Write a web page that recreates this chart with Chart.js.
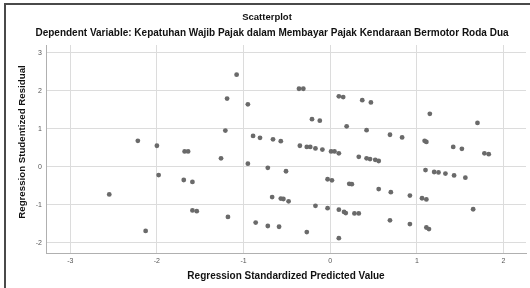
<!DOCTYPE html>
<html>
<head>
<meta charset="utf-8">
<script src="https://cdn.jsdelivr.net/npm/chart.js@4.4.1/dist/chart.umd.min.js"></script>
<style>
  body { margin: 0; background: #fff; }
  canvas { display: block; }
</style>
</head>
<body>
<canvas id="scatterChart" width="530" height="288"></canvas>
<script>
// data
const predicted = [
  -2.55, -1.98, -2.13, -2.22, -2.00, -1.68, -1.64, -1.08, -1.19, -0.95,
  -1.21, -1.26, -0.95, -0.72, -0.51, -0.89, -0.81, -0.66, -0.57, -0.36,
  -0.31, -0.21, -0.12, 0.10, 0.15, 0.19, -0.35, -0.27, -0.23, -0.17,
  -0.09, 0.01, 0.05, 0.10, 0.37, 0.47, 0.42, 0.69, 0.83, 1.15,
  1.70, 1.09, 1.11, 1.42, 1.52, 1.78, 1.83, 0.33, 0.42, 0.46,
  0.52, 0.56, 1.10, 1.20, 1.25, 1.33, 1.43, 1.56, -1.69, -1.59,
  -0.03, 0.02, 0.22, 0.25, 0.56, 0.70, 0.92, 1.06, 1.11, -0.67,
  -0.57, -0.54, -0.48, -0.17, -0.03, 0.10, 0.16, 0.18, 0.28, 0.33,
  0.69, 0.92, 1.11, 1.14, 1.65, -1.59, -1.54, -1.18, -0.86, -0.72,
  -0.59, -0.27, 0.10
];
const residual = [
  -0.73, -0.22, -1.69, 0.68, 0.55, 0.40, 0.40, 2.42, 1.79, 1.64,
  0.95, 0.22, 0.08, -0.03, -0.12, 0.81, 0.76, 0.72, 0.67, 2.05,
  2.05, 1.25, 1.21, 1.85, 1.83, 1.06, 0.55, 0.52, 0.52, 0.48,
  0.45, 0.40, 0.40, 0.35, 1.75, 1.69, 0.96, 0.84, 0.77, 1.39,
  1.15, 0.68, 0.65, 0.52, 0.47, 0.35, 0.33, 0.26, 0.22, 0.20,
  0.18, 0.15, -0.09, -0.14, -0.15, -0.18, -0.23, -0.29, -0.35, -0.40,
  -0.33, -0.36, -0.45, -0.46, -0.59, -0.67, -0.76, -0.83, -0.86, -0.80,
  -0.84, -0.85, -0.91, -1.03, -1.09, -1.13, -1.19, -1.22, -1.23, -1.23,
  -1.41, -1.51, -1.60, -1.64, -1.12, -1.15, -1.17, -1.32, -1.47, -1.56,
  -1.58, -1.72, -1.88
];
const xTicks = [-3, -2, -1, 0, 1, 2];
const yTicks = [-2, -1, 0, 1, 2, 3];

const titleText = "Scatterplot";
const subtitleText = "Dependent Variable: Kepatuhan Wajib Pajak dalam Membayar Pajak Kendaraan Bermotor Roda Dua";
const xTitle = "Regression Standardized Predicted Value";
const yTitle = "Regression Studentized Residual";

const points = predicted.map((x, i) => ({ x: x, y: residual[i] }));

// frame + titles, drawn like the SPSS output
const decorations = {
  id: "decorations",
  afterDraw(chart) {
    const ctx = chart.ctx;
    const area = chart.chartArea;
    ctx.save();
    ctx.fillStyle = "#4a4a4a";
    ctx.fillRect(4, 3, 526, 2);
    ctx.fillRect(4, 3, 2, 285);

    ctx.fillStyle = "#111";
    ctx.textAlign = "center";
    ctx.textBaseline = "middle";
    ctx.font = "bold 9.5px 'Liberation Sans', Arial, sans-serif";
    ctx.fillText(titleText, 267, 17);
    ctx.font = "bold 10px 'Liberation Sans', Arial, sans-serif";
    ctx.fillText(subtitleText, 272, 33);
    ctx.fillText(xTitle, (area.left + area.right) / 2, 276);

    ctx.font = "bold 9.7px 'Liberation Sans', Arial, sans-serif";
    ctx.translate(22, 142);
    ctx.rotate(-Math.PI / 2);
    ctx.fillText(yTitle, 0, 0);
    ctx.restore();
  }
};

new Chart(document.getElementById("scatterChart"), {
  type: "scatter",
  data: {
    datasets: [{
      data: points,
      backgroundColor: "#6a6a6a",
      borderWidth: 0,
      pointRadius: 2.4
    }]
  },
  options: {
    responsive: false,
    animation: false,
    devicePixelRatio: 1,
    layout: { padding: { top: 45, right: 3, left: 0, bottom: 0 } },
    plugins: {
      legend: { display: false },
      tooltip: { enabled: false }
    },
    scales: {
      x: {
        type: "linear",
        min: -3.28,
        max: 2.26,
        afterBuildTicks: s => { s.ticks = xTicks.map(v => ({ value: v })); },
        afterFit: s => { s.height = 35; },
        grid: { color: "#dcdcdc", drawTicks: false },
        border: { color: "#b0b0b0" },
        ticks: { font: { size: 7, family: "'Liberation Sans', Arial" }, color: "#555", padding: 4 }
      },
      y: {
        type: "linear",
        min: -2.27,
        max: 3.2,
        afterBuildTicks: s => { s.ticks = yTicks.map(v => ({ value: v })); },
        afterFit: s => { s.width = 46; },
        grid: { color: "#dcdcdc", drawTicks: false },
        border: { color: "#b0b0b0" },
        ticks: { font: { size: 7, family: "'Liberation Sans', Arial" }, color: "#555", padding: 4 }
      }
    }
  },
  plugins: [decorations]
});
</script>
</body>
</html>
